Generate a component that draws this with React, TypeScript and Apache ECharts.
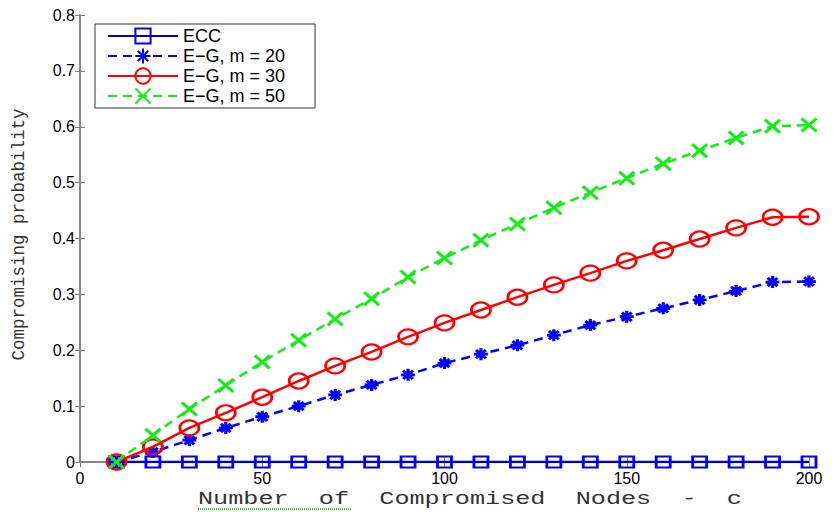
import React, { useEffect, useRef } from "react";
import * as echarts from "echarts";

const xValues = [10, 20, 30, 40, 50, 60, 70, 80, 90, 100, 110, 120, 130, 140, 150, 160, 170, 180, 190, 200];
const ecc = [0, 0, 0, 0, 0, 0, 0, 0, 0, 0, 0, 0, 0, 0, 0, 0, 0, 0, 0, 0];
const egM20 = [0, 0.018, 0.039, 0.061, 0.081, 0.1, 0.12, 0.138, 0.156, 0.177, 0.193, 0.209, 0.227, 0.245, 0.26, 0.275, 0.29, 0.306, 0.322, 0.323];
const egM30 = [0, 0.027, 0.061, 0.088, 0.116, 0.145, 0.172, 0.197, 0.224, 0.249, 0.272, 0.295, 0.317, 0.338, 0.36, 0.379, 0.399, 0.419, 0.438, 0.439];
const egM50 = [0, 0.048, 0.095, 0.137, 0.179, 0.218, 0.256, 0.292, 0.331, 0.365, 0.397, 0.426, 0.455, 0.482, 0.508, 0.534, 0.557, 0.58, 0.601, 0.603];
const seriesNames = ["ECC", "E\u2212G, m = 20", "E\u2212G, m = 30", "E\u2212G, m = 50"];
const xTitle = "Number  of  Compromised  Nodes  -  c";
const yTitle = "Compromising probability";

const ASTERISK = "path://M5,0L5,10M0,5L10,5M1.5,1.5L8.5,8.5M8.5,1.5L1.5,8.5";
const CROSS = "path://M0,0L10,10M10,0L0,10";

function pairs(ys: number[]) {
  return xValues.map((x, i) => [x, ys[i]]);
}

export default function App() {
  const ref = useRef<HTMLDivElement>(null);
  useEffect(() => {
    if (!ref.current) return;
    const chart = echarts.init(ref.current, null, { renderer: "svg" });
    const axisGray = "#808080";
    const tickFont = { fontFamily: "Liberation Sans", fontSize: 16, color: "#000" };
    chart.setOption({
      animation: false,
      backgroundColor: "#fff",
      grid: { left: 80, right: 26, top: 15, bottom: 50 },
      legend: {
        orient: "vertical",
        left: 95,
        top: 24,
        padding: [3, 30, 3, 12],
        itemWidth: 70,
        itemHeight: 19,
        itemGap: 2,
        itemTextGap: 12,
        borderColor: "#333",
        borderWidth: 1,
        backgroundColor: "#fff",
        textStyle: { fontFamily: "Liberation Sans", fontSize: 18, color: "#000" },
        data: seriesNames,
      },
      xAxis: [
        {
          type: "value",
          min: 0,
          max: 200,
          interval: 50,
          axisLine: { lineStyle: { color: axisGray, width: 1.5 } },
          axisTick: { inside: true, length: 5, lineStyle: { color: axisGray } },
          axisLabel: { ...tickFont, margin: 8 },
          splitLine: { show: false },
        },
        {
          type: "value",
          position: "top",
          min: 0,
          max: 200,
          interval: 50,
          axisLine: { show: true, lineStyle: { color: axisGray, width: 1.5 } },
          axisTick: { inside: true, length: 5, lineStyle: { color: axisGray } },
          axisLabel: { show: false },
          splitLine: { show: false },
        },
      ],
      yAxis: [
        {
          type: "value",
          min: 0,
          max: 0.8,
          interval: 0.1,
          name: yTitle,
          nameLocation: "middle",
          nameGap: 52,
          nameTextStyle: { fontFamily: "Liberation Mono", fontSize: 17.5, color: "#333", padding: [0, 0, 0, 8] },
          axisLine: { show: true, lineStyle: { color: axisGray, width: 1.5 } },
          axisTick: { show: true, inside: true, length: 5, lineStyle: { color: axisGray } },
          axisLabel: { ...tickFont, margin: 5 },
          splitLine: { show: false },
        },
        {
          type: "value",
          position: "right",
          min: 0,
          max: 0.8,
          interval: 0.1,
          axisLine: { show: true, lineStyle: { color: axisGray, width: 1.5 } },
          axisTick: { show: true, inside: true, length: 5, lineStyle: { color: axisGray } },
          axisLabel: { show: false },
          splitLine: { show: false },
        },
      ],
      series: [
        {
          name: seriesNames[0],
          type: "line",
          data: pairs(ecc),
          symbol: "rect",
          symbolSize: [14, 11],
          lineStyle: { color: "#0000d0", width: 2.5, type: "solid" },
          itemStyle: { color: "rgba(0,0,0,0)", borderColor: "#0000ff", borderWidth: 2.5 },
          z: 2,
        },
        {
          name: seriesNames[1],
          type: "line",
          data: pairs(egM20),
          symbol: ASTERISK,
          symbolSize: [14, 12],
          lineStyle: { color: "#0000ff", width: 2.5, type: [9, 6] },
          itemStyle: { color: "#0000ff", borderColor: "#0000ff", borderWidth: 3 },
          z: 3,
        },
        {
          name: seriesNames[2],
          type: "line",
          data: pairs(egM30),
          symbol: "circle",
          symbolSize: [19, 15],
          lineStyle: { color: "#ff0000", width: 2.5, type: "solid" },
          itemStyle: { color: "rgba(0,0,0,0)", borderColor: "#ff0000", borderWidth: 2.5 },
          z: 4,
        },
        {
          name: seriesNames[3],
          type: "line",
          data: pairs(egM50),
          symbol: CROSS,
          symbolSize: [15, 13],
          lineStyle: { color: "#11ee11", width: 2.5, type: [9, 6] },
          itemStyle: { color: "#11ee11", borderColor: "#11ee11", borderWidth: 3 },
          z: 5,
        },
      ],
      graphic: [
        {
          type: "text",
          x: 198,
          y: 490,
          scaleX: 1.4,
          style: { text: xTitle, font: '18px "Liberation Mono"', fill: "#333" },
        },
        {
          type: "line",
          shape: { x1: 198, y1: 509, x2: 351, y2: 509 },
          style: { stroke: "#4caf50", lineWidth: 2, lineDash: [1, 1] },
        },
      ],
    });
    return () => chart.dispose();
  }, []);
  return <div ref={ref} style={{ width: 835, height: 512, position: "absolute", left: 0, top: 0 }} />;
}
